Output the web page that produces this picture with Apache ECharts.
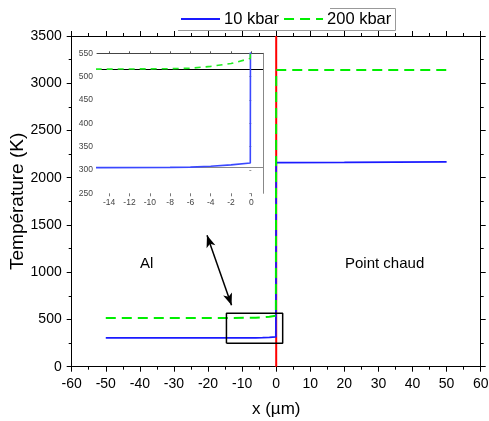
<!DOCTYPE html>
<html>
<head>
<meta charset="utf-8">
<script src="https://cdn.jsdelivr.net/npm/echarts@6/dist/echarts.min.js"></script>
<style>
html,body{margin:0;padding:0;background:#fff;}
#chart{width:489px;height:421px;}
</style>
</head>
<body>
<div id="chart"></div>
<script>
// ---- data ----
const seriesNames = ['10 kbar', '200 kbar'];
const xBlue = [-50, -15, -8, -6, -4, -2, -0.1, 0, 20, 50];
const tBlue = [305, 305, 305.5, 306, 308, 311, 315, 2160, 2162, 2167];
const xGreen = [-50, -15, -8, -6, -4, -2, -0.1, 0, 50];
const tGreen = [516, 516, 517, 518, 522, 528, 539, 3140, 3140];
const xRed = [0, 0];
const tRed = [0, 3500];
const boxX = [-14.6, 1.9, 1.9, -14.6, -14.6];
const boxT = [248, 248, 565, 565, 248];
const arrowFrom = [-20.3, 1390];
const arrowTo = [-13.1, 650];
const insetRefLines = [305, 515];
const xTicksMain = {min: -60, max: 60, interval: 10};
const yTicksMain = {min: 0, max: 3500, interval: 500};
const insetXTicks = [-14, -12, -10, -8, -6, -4, -2, 0];
const insetXRange = [-15.2, 1.15];
const insetYTicks = {min: 250, max: 550, interval: 50};
const regionLabels = ['Al', 'Point chaud'];

const zip = (xs, ys) => xs.map((x, i) => [x, ys[i]]);
const FONT = 'Liberation Sans, Arial, sans-serif';
const plain = v => String(v);
const chart = echarts.init(document.getElementById('chart'), null, {renderer: 'canvas'});

const mainAxisCommon = {
  axisLine: {show: true, onZero: false, lineStyle: {color: '#000', width: 1}},
  axisTick: {show: true, inside: false, length: 5, lineStyle: {color: '#000', width: 1}},
  minorTick: {show: true, splitNumber: 2, length: 3, lineStyle: {color: '#000', width: 1}},
  splitLine: {show: false}
};

const option = {
  animation: false,
  backgroundColor: '#fff',
  textStyle: {fontFamily: FONT},
  legend: {
    data: seriesNames,
    left: 180, top: 10.5,
    itemWidth: 39, itemHeight: 14, itemGap: 4,
    padding: 0,
    itemStyle: {opacity: 0},
    textStyle: {fontSize: 16.5, color: '#000', fontFamily: FONT, padding: [0, 0, 0, -1]},
    selectedMode: false
  },
  grid: [
    {left: 71.7, right: 8.3, top: 36, bottom: 54.3, containLabel: false, outerBoundsMode: 'none'},
    {left: 97, top: 53.3, width: 166, height: 140, containLabel: false, outerBoundsMode: 'none'}
  ],
  xAxis: [
    Object.assign({}, mainAxisCommon, {
      gridIndex: 0, type: 'value', position: 'bottom',
      min: xTicksMain.min, max: xTicksMain.max, interval: xTicksMain.interval,
      axisLabel: {fontSize: 14, color: '#000', margin: 10, fontFamily: FONT, formatter: plain},
      name: 'x (µm)', nameLocation: 'middle', nameGap: 34, nameMoveOverlap: false,
      nameTextStyle: {fontSize: 17, color: '#000', fontFamily: FONT}
    }),
    Object.assign({}, mainAxisCommon, {
      gridIndex: 0, type: 'value', position: 'top',
      min: xTicksMain.min, max: xTicksMain.max, interval: xTicksMain.interval,
      axisLabel: {show: false}
    }),
    {
      gridIndex: 1, type: 'value', position: 'bottom',
      min: insetXRange[0], max: insetXRange[1],
      axisLine: {show: false},
      axisTick: {show: true, length: 3, customValues: insetXTicks, lineStyle: {color: '#777'}},
      axisLabel: {show: true, customValues: insetXTicks, fontSize: 8.5, color: '#444', margin: 5, fontFamily: FONT, formatter: plain},
      splitLine: {show: false}
    },
    {
      gridIndex: 1, type: 'value', position: 'top',
      min: insetXRange[0], max: insetXRange[1],
      axisLine: {show: true, onZero: false, lineStyle: {color: '#444', width: 1}},
      axisTick: {show: true, length: 2, customValues: insetXTicks, lineStyle: {color: '#555'}},
      axisLabel: {show: false},
      splitLine: {show: false}
    }
  ],
  yAxis: [
    Object.assign({}, mainAxisCommon, {
      gridIndex: 0, type: 'value', position: 'left',
      min: yTicksMain.min, max: yTicksMain.max, interval: yTicksMain.interval,
      axisLabel: {fontSize: 14, color: '#000', margin: 10, fontFamily: FONT, formatter: plain},
      name: 'Température (K)', nameLocation: 'middle', nameGap: 44, nameMoveOverlap: false,
      nameTextStyle: {fontSize: 19, color: '#000', fontFamily: FONT}
    }),
    Object.assign({}, mainAxisCommon, {
      gridIndex: 0, type: 'value', position: 'right',
      min: yTicksMain.min, max: yTicksMain.max, interval: yTicksMain.interval,
      axisLabel: {show: false}
    }),
    {
      gridIndex: 1, type: 'value', position: 'left',
      min: insetYTicks.min, max: insetYTicks.max, interval: insetYTicks.interval,
      axisLine: {show: false},
      axisTick: {show: true, length: 2, lineStyle: {color: '#999'}},
      axisLabel: {fontSize: 8.5, color: '#444', margin: 4, fontFamily: FONT, formatter: plain},
      splitLine: {show: false}
    },
    {
      gridIndex: 1, type: 'value', position: 'right',
      min: insetYTicks.min, max: insetYTicks.max,
      axisLine: {show: true, onZero: false, lineStyle: {color: '#888', width: 1}},
      axisTick: {show: false}, axisLabel: {show: false}, splitLine: {show: false}
    }
  ],
  series: [
    {
      name: 'interface', type: 'line', xAxisIndex: 0, yAxisIndex: 0,
      data: zip(xRed, tRed), symbol: 'none', z: 1,
      lineStyle: {color: '#ff0000', width: 2},
      markLine: {
        silent: true, symbol: ['arrow', 'arrow'], symbolSize: [7, 12],
        label: {show: false},
        lineStyle: {color: '#000', width: 1.5, type: 'solid'},
        data: [[{coord: arrowFrom}, {coord: arrowTo}]]
      }
    },
    {
      name: seriesNames[0], type: 'line', xAxisIndex: 0, yAxisIndex: 0,
      data: zip(xBlue, tBlue), symbol: 'none', z: 2,
      color: '#1a1aff',
      lineStyle: {color: '#1a1aff', width: 1.8}
    },
    {
      name: seriesNames[1], type: 'line', xAxisIndex: 0, yAxisIndex: 0,
      data: zip(xGreen, tGreen), symbol: 'none', z: 3,
      color: '#00ee00',
      lineStyle: {color: '#00ee00', width: 2, type: [10, 6]}
    },
    {
      name: 'zoom box', type: 'line', xAxisIndex: 0, yAxisIndex: 0,
      data: zip(boxX, boxT), symbol: 'none', z: 4,
      lineStyle: {color: '#000', width: 1.5}
    },
    {
      name: 'inset 10', type: 'line', xAxisIndex: 2, yAxisIndex: 2,
      data: zip(xBlue, tBlue), symbol: 'none', z: 6, clip: true,
      lineStyle: {color: '#3a48ff', width: 1.6},
      markLine: {
        silent: true, symbol: 'none', label: {show: false},
        data: [
          {yAxis: insetRefLines[0], lineStyle: {color: '#888', width: 1, type: 'solid'}},
          {yAxis: insetRefLines[1], lineStyle: {color: '#000', width: 1, type: 'solid'}}
        ]
      }
    },
    {
      name: 'inset 200', type: 'line', xAxisIndex: 2, yAxisIndex: 2,
      data: zip(xGreen, tGreen), symbol: 'none', z: 7, clip: true,
      lineStyle: {color: '#22ee22', width: 1.6, type: [6, 5]}
    }
  ],
  graphic: [
    {type: 'text', left: 140, top: 256, style: {text: regionLabels[0], fontSize: 15, fill: '#000', fontFamily: FONT}},
    {type: 'text', left: 345, top: 256, style: {text: regionLabels[1], fontSize: 15, fill: '#000', fontFamily: FONT}},
    {type: 'polyline', silent: true, shape: {points: [[178, 30.5], [395.5, 30.5], [395.5, 8.5], [330, 8.5]]},
     style: {stroke: '#999', lineWidth: 1, fill: null}}
  ]
};
chart.setOption(option);
</script>
</body>
</html>
